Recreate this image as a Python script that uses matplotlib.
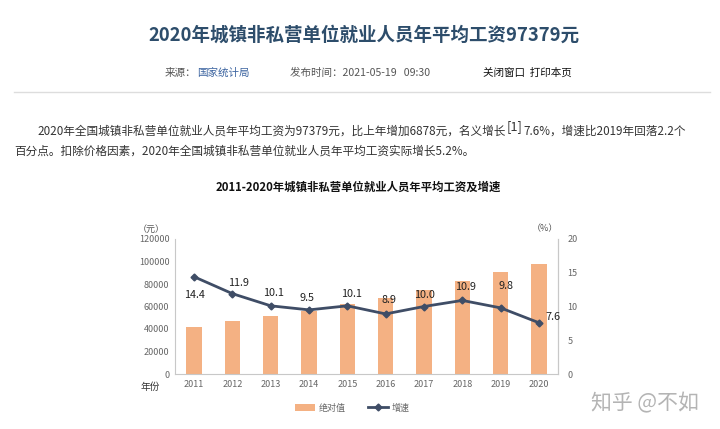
import matplotlib
matplotlib.use('Agg')
import matplotlib.pyplot as plt
import numpy as np

plt.rcParams['font.family'] = ['Noto Sans CJK SC', 'DejaVu Sans']

# %% data
years = ['2011', '2012', '2013', '2014', '2015', '2016', '2017', '2018', '2019', '2020']
wage = [41799, 46769, 51483, 56360, 62029, 67569, 74318, 82413, 90501, 97379]  # 元
growth = [14.4, 11.9, 10.1, 9.5, 10.1, 8.9, 10.0, 10.9, 9.8, 7.6]  # %
growth_lbl = ['14.4', '11.9', '10.1', '9.5', '10.1', '8.9', '10.0', '10.9', '9.8', '7.6']
left_ticks = [0, 20000, 40000, 60000, 80000, 100000, 120000]
right_ticks = [0, 5, 10, 15, 20]

W, H = 720, 429
fig = plt.figure(figsize = (7.2, 4.29), dpi = 100)
fig.patch.set_facecolor('white')
renderer = fig.canvas.get_renderer()

def px(x, y):
    # pixel position of the page -> figure fraction
    return x / W, 1 - y / H

# %% page header
fig.text(*px(364, 35), '2020年城镇非私营单位就业人员年平均工资97379元', ha = 'center', va = 'center',
         fontsize = 13.3, fontweight = 'bold', color = '#2d4d6b')
fig.text(*px(165, 73), '来源：', ha = 'left', va = 'center', fontsize = 7.6, color = '#555555')
fig.text(*px(197, 73), '国家统计局', ha = 'left', va = 'center', fontsize = 7.6, color = '#3c64a0')
fig.text(*px(290, 73), '发布时间：2021-05-19   09:30', ha = 'left', va = 'center', fontsize = 7.6, color = '#555555')
fig.text(*px(483, 73), '关闭窗口  打印本页', ha = 'left', va = 'center', fontsize = 7.6, color = '#111111')
fig.add_artist(plt.Line2D([14 / W, 710 / W], [1 - 92 / H, 1 - 92 / H], color = '#dddddd', lw = 1))

# first paragraph line, pieces placed one after another
pieces = [('2020年全国城镇非私营单位就业人员年平均工资为97379元，比上年增加6878元，名义增长', 8.4, 131),
          ('[1]', 9.2, 127),
          ('7.6%，增速比2019年回落2.2个', 8.4, 131)]
xpos = 37
for s, fs, yy in pieces:
    t = fig.text(*px(xpos, yy), s, ha = 'left', va = 'center', fontsize = fs, color = '#333333')
    bb = t.get_window_extent(renderer)
    xpos = bb.x1 + 1
fig.text(*px(14, 151), '百分点。扣除价格因素，2020年全国城镇非私营单位就业人员年平均工资实际增长5.2%。',
         ha = 'left', va = 'center', fontsize = 8.4, color = '#333333')

fig.text(*px(358, 187), '2011-2020年城镇非私营单位就业人员年平均工资及增速', ha = 'center', va = 'center',
         fontsize = 8.2, fontweight = 'bold', color = '#111111')

# %% chart
ax = fig.add_axes([175 / W, (H - 374) / H, 383 / W, 135 / H])
x = np.arange(len(years))
ax.bar(x, wage, width = 0.4, color = '#f4b183', label = '绝对值', zorder = 2)
ax.set_xlim(-0.5, len(years) - 0.5)
ax.set_ylim(0, 120000)
ax.set_yticks(left_ticks)
ax.set_yticklabels([str(t) for t in left_ticks])
ax.set_xticks(x)
ax.set_xticklabels(years)
ax.tick_params(axis = 'both', length = 0, labelsize = 6.5, labelcolor = '#666666', pad = 4)
ax.spines['top'].set_visible(False)
for s in ['left', 'right', 'bottom']:
    ax.spines[s].set_color('#c8c8c8')
    ax.spines[s].set_linewidth(0.8)

ax2 = ax.twinx()
ax2.plot(x, growth, color = '#3f4d66', lw = 2, marker = 'D', markersize = 3.5, label = '增速', zorder = 3)
ax2.set_ylim(0, 20)
ax2.set_yticks(right_ticks)
ax2.tick_params(axis = 'y', length = 0, labelsize = 6.5, labelcolor = '#666666', pad = 7)
for s in ['top', 'left', 'bottom']:
    ax2.spines[s].set_visible(False)
ax2.spines['right'].set_color('#c8c8c8')
ax2.spines['right'].set_linewidth(0.8)

offsets = [(0, -18), (6, 11), (3, 13), (-2, 12), (4, 12), (3, 14), (1, 11), (3, 13), (5, 22), (14, 6)]
for i, (g, lab) in enumerate(zip(growth, growth_lbl)):
    ax2.annotate(lab, (i, g), xytext = offsets[i], textcoords = 'offset pixels', ha = 'center', va = 'center',
                 fontsize = 7.8, color = '#222222')

fig.text(*px(165, 229), '（元）', ha = 'right', va = 'center', fontsize = 6.5, color = '#555555')
fig.text(*px(545, 229), '（%）', ha = 'center', va = 'center', fontsize = 6.5, color = '#555555')
fig.text(*px(160, 387), '年份', ha = 'right', va = 'center', fontsize = 7, color = '#333333')

# legend
h1, l1 = ax.get_legend_handles_labels()
h2, l2 = ax2.get_legend_handles_labels()
fig.legend(h1 + h2, l1 + l2, loc = 'center', bbox_to_anchor = px(352, 408), ncol = 2, frameon = False,
           fontsize = 6.5, labelcolor = '#666666', handlelength = 2.2, columnspacing = 2.5, handletextpad = 0.4)

# watermark
fig.text(*px(645, 403), '知乎 @不如', ha = 'center', va = 'center', fontsize = 15, color = '#b4b4b4')

fig.savefig('out.png', dpi = 100)
